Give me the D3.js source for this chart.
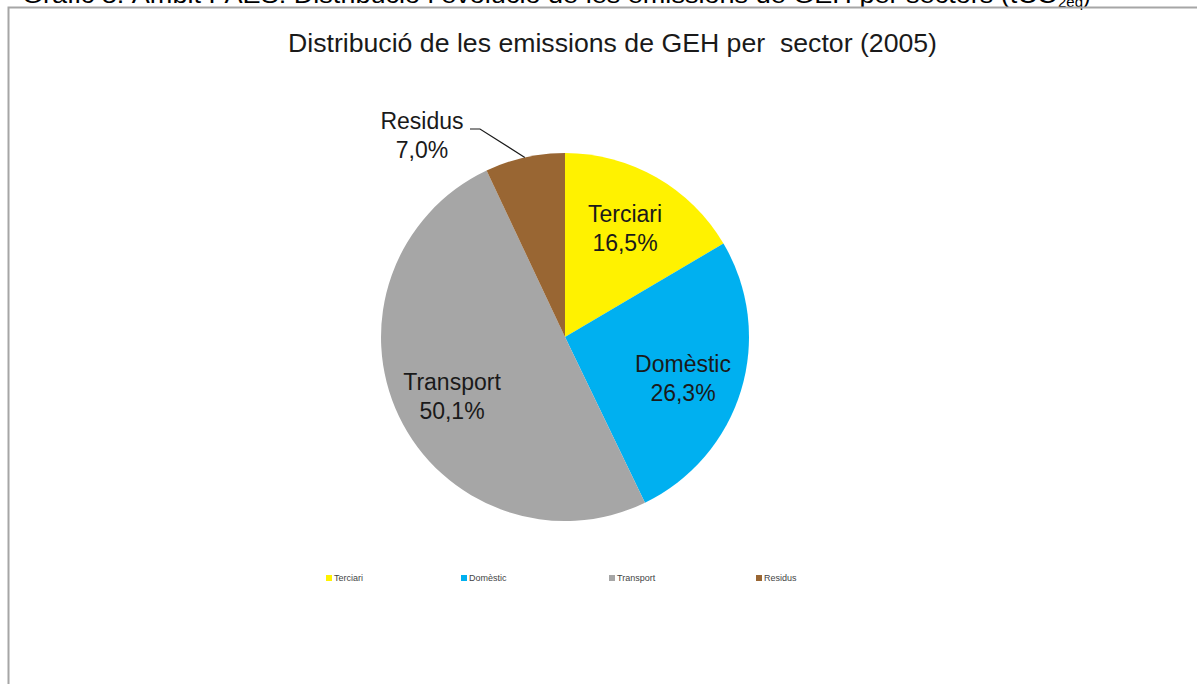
<!DOCTYPE html>
<html>
<head>
<meta charset="utf-8">
<script src="https://cdn.jsdelivr.net/npm/d3@7"></script>
<style>
  html, body { margin: 0; padding: 0; background: #fff; }
  svg { display: block; }
  text { font-family: "Liberation Sans", Arial, sans-serif; white-space: pre; }
</style>
</head>
<body>
<script>
const categories = ["Terciari", "Domèstic", "Transport", "Residus"];
const values = [16.5, 26.3, 50.1, 7.0];
const valueLabels = ["16,5%", "26,3%", "50,1%", "7,0%"];
const colors = ["#FFF200", "#00B0F0", "#A6A6A6", "#996633"];
const chartTitle = "Distribució de les emissions de GEH per  sector (2005)";
const pageCaption = "Gràfic 8. Àmbit PAES: Distribució i evolució de les emissions de GEH per sectors (tCO";

const W = 1197, H = 684;
const svg = d3.select("body").append("svg").attr("width", W).attr("height", H);

// cut-off caption at top
const cap = svg.append("text").attr("x", 22).attr("y", 3).attr("font-size", 23).attr("fill", "#000");
cap.append("tspan").attr("textLength", 1036).attr("lengthAdjust", "spacingAndGlyphs").text(pageCaption);
cap.append("tspan").attr("font-size", 15).attr("dy", 4).text("2eq");
cap.append("tspan").attr("dy", -4).text(")");

// chart frame
svg.append("path").attr("d", `M8.5,${H} V7.5 H${W}`).attr("fill", "none").attr("stroke", "#A6A6A6").attr("stroke-width", 2);

// title
svg.append("text").attr("x", 288).attr("y", 52)
  .attr("font-size", 26).attr("fill", "#1a1a1a")
  .attr("textLength", 649).attr("lengthAdjust", "spacingAndGlyphs").text(chartTitle);

const cx = 565, cy = 337, r = 184;
const pie = d3.pie().sort(null).value(d => d)(values);
const arc = d3.arc().innerRadius(0).outerRadius(r);
const g = svg.append("g").attr("transform", `translate(${cx},${cy})`);
g.selectAll("path").data(pie).join("path").attr("d", arc).attr("fill", (d, i) => colors[i]);

// labels (positions relative to center)
const labelPos = [[60, -115], [118, 35], [-113, 53], [-143, -208]];
categories.forEach((c, i) => {
  const t = g.append("text").attr("text-anchor", "middle").attr("font-size", 23).attr("fill", "#1a1a1a")
    .attr("transform", `translate(${labelPos[i][0]},${labelPos[i][1]})`);
  t.append("tspan").attr("x", 0).attr("y", 0).text(c);
  t.append("tspan").attr("x", 0).attr("y", 29).text(valueLabels[i]);
});

// leader line for Residus
const resMid = (pie[3].startAngle + pie[3].endAngle) / 2;
const ex = Math.sin(resMid) * r, ey = -Math.cos(resMid) * r;
g.append("path").attr("d", `M${470 - cx},${129 - cy} H${480 - cx} L${ex},${ey}`)
  .attr("fill", "none").attr("stroke", "#1a1a1a").attr("stroke-width", 1.2);

// legend
const legX = [326, 461, 609, 756];
categories.forEach((c, i) => {
  svg.append("rect").attr("x", legX[i]).attr("y", 575).attr("width", 6).attr("height", 6).attr("fill", colors[i]);
  svg.append("text").attr("x", legX[i] + 8).attr("y", 581).attr("font-size", 9).attr("fill", "#444").text(c);
});
</script>
</body>
</html>
